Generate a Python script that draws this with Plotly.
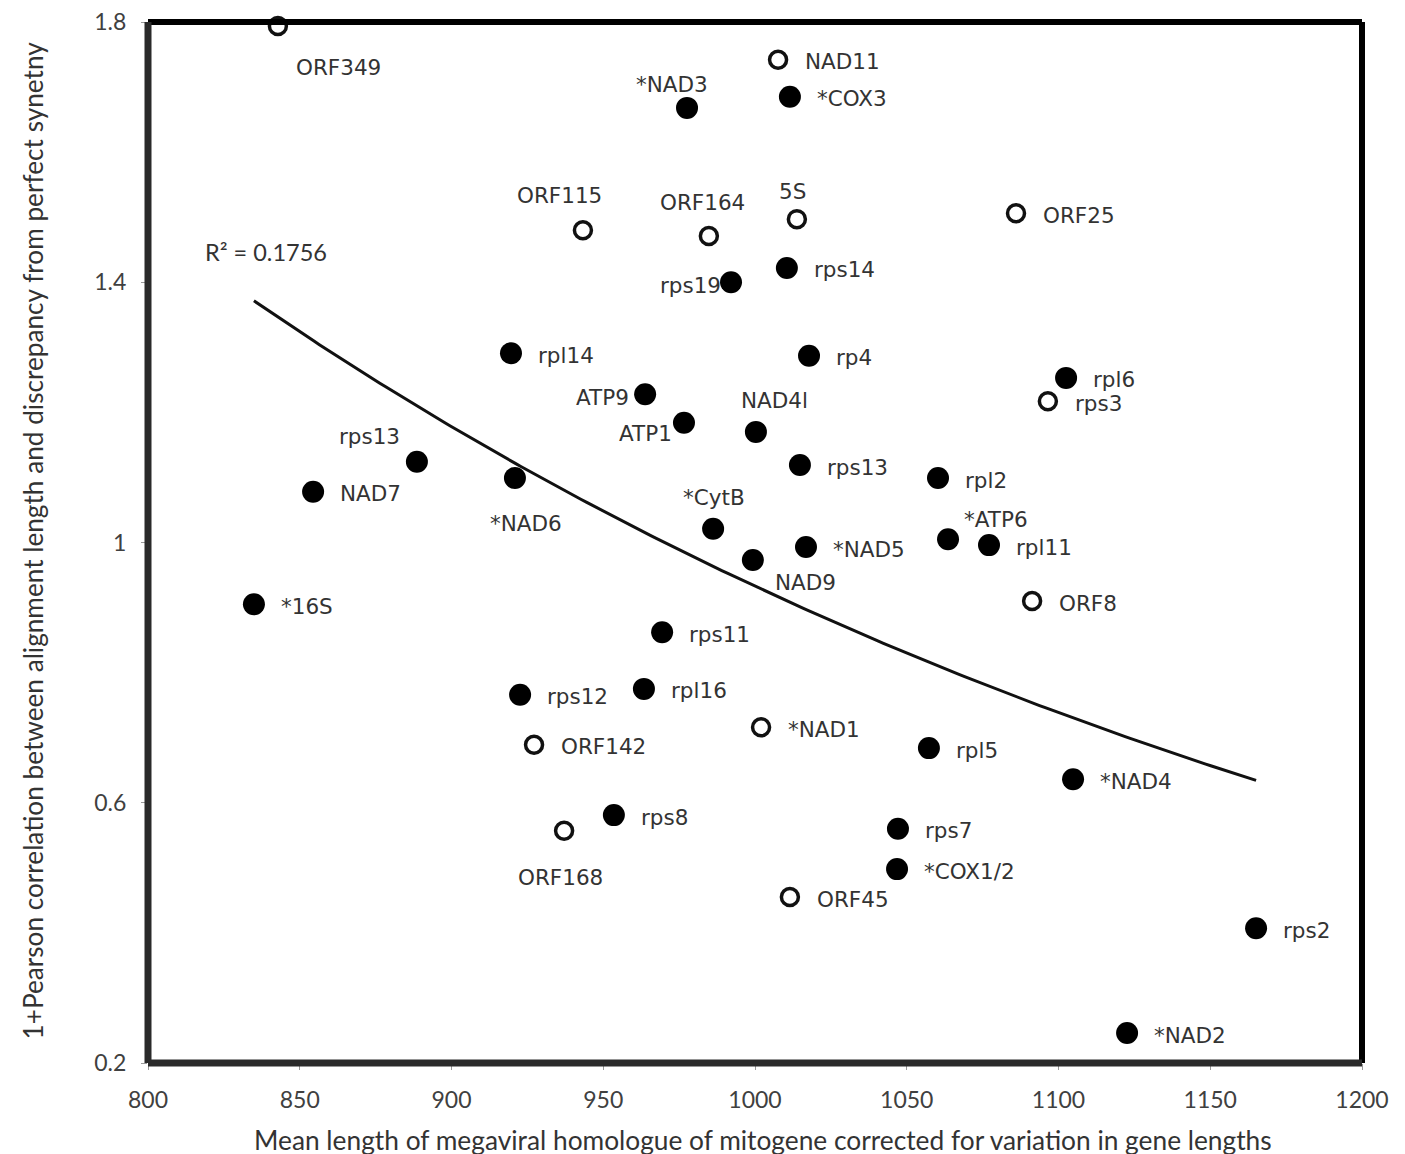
import numpy as np
import plotly.graph_objects as go

# ---- data ----
genes = ["ORF349", "NAD11", "ORF115", "ORF164", "5S", "ORF25", "rps3", "ORF8",
         "*NAD1", "ORF142", "ORF168", "ORF45",
         "*NAD3", "*COX3", "rps19", "rps14", "rpl14", "rp4", "ATP9", "rpl6",
         "ATP1", "NAD4l", "rps13", "rps13", "NAD7", "*NAD6", "rpl2", "*CytB",
         "*ATP6", "rpl11", "*NAD5", "NAD9", "*16S", "rps11", "rps12", "rpl16",
         "rpl5", "*NAD4", "rps8", "rps7", "*COX1/2", "rps2", "*NAD2"]
open_marker = [True] * 12 + [False] * 31
mean_length = [842.8, 1007.6, 943.3, 984.8, 1013.8, 1086.0, 1096.5, 1091.3,
               1002.0, 927.2, 937.1, 1011.5,
               977.6, 1011.5, 992.1, 1010.5, 919.6, 1017.8, 963.8, 1102.5,
               976.6, 1000.3, 1014.8, 888.6, 854.4, 920.9, 1060.3, 986.2,
               1063.6, 1077.1, 1016.8, 999.3, 834.9, 969.4, 922.6, 963.4,
               1057.3, 1104.8, 953.5, 1047.1, 1046.8, 1165.1, 1122.6]
pearson1 = [1.794, 1.742, 1.480, 1.471, 1.497, 1.506, 1.217, 0.910,
            0.716, 0.689, 0.557, 0.455,
            1.668, 1.685, 1.400, 1.422, 1.291, 1.287, 1.228, 1.253,
            1.184, 1.170, 1.119, 1.124, 1.078, 1.099, 1.099, 1.021,
            1.005, 0.996, 0.993, 0.973, 0.905, 0.862, 0.766, 0.775,
            0.684, 0.636, 0.581, 0.560, 0.498, 0.407, 0.246]
r2_text = "R² = 0.1756"
x_ticks = [800, 850, 900, 950, 1000, 1050, 1100, 1150, 1200]
y_ticks = [0.2, 0.6, 1.0, 1.4, 1.8]
y_ticklabels = ["0.2", "0.6", "1", "1.4", "1.8"]
x_title = "Mean length of megaviral homologue of mitogene corrected for variation in gene lengths"
y_title = "1+Pearson correlation between alignment length and discrepancy from perfect synetny"

# ---- label placement (style: pixel offsets of label centre from point) ----
label_offsets = {
    "ORF349": (61, 42), "*NAD3": (-15, -23), "ORF115": (-23, -35),
    "ORF164": (-6, -34), "5S": (-4, -28), "rps19": (-41, 3), "ATP9": (-43, 3),
    "NAD4l": (19, -31), "ATP1": (-38, 11), "*NAD6": (11, 45),
    "*CytB": (1, -31), "*ATP6": (48, -20), "NAD9": (53, 22), "ORF168": (-4, 47),
}
left_rps13_offset = (-47, -25)

x = np.array(mean_length)
y = np.array(pearson1)
filled = ~np.array(open_marker)

# exponential trendline fitted to the filled points (least squares on ln y)
b_f, la_f = np.polyfit(x[filled], np.log(y[filled]), 1)
xf = np.linspace(x[filled].min(), x[filled].max(), 200)
yf = np.exp(la_f + b_f * xf)

fig = go.Figure()
fig.add_trace(go.Scatter(x=xf, y=yf, mode="lines",
                         line=dict(color="#111111", width=3),
                         hoverinfo="skip", showlegend=False, cliponaxis=False))

xo = [xi for xi, o in zip(mean_length, open_marker) if o]
yo = [yi for yi, o in zip(pearson1, open_marker) if o]
xc = [xi for xi, o in zip(mean_length, open_marker) if not o]
yc = [yi for yi, o in zip(pearson1, open_marker) if not o]

fig.add_trace(go.Scatter(x=xo, y=yo, mode="markers", cliponaxis=False,
                         marker=dict(size=17, color="white", symbol="circle",
                                     line=dict(color="#111111", width=3.5)),
                         showlegend=False))
fig.add_trace(go.Scatter(x=xc, y=yc, mode="markers", cliponaxis=False,
                         marker=dict(size=22, color="#000000", line=dict(width=0)),
                         showlegend=False))

label_font = dict(family="DejaVu Sans", size=21.5, color="#333333")
for g, xi, yi in zip(genes, mean_length, pearson1):
    if g == "rps13" and xi < 900:
        dx, dy = left_rps13_offset
        anchor = "center"
    elif g in label_offsets:
        dx, dy = label_offsets[g]
        anchor = "center"
    else:
        dx, dy = 25, 2
        anchor = "left"
    fig.add_annotation(x=xi, y=yi, text=g, showarrow=False, xanchor=anchor,
                       yanchor="middle", xshift=dx, yshift=-dy, font=label_font)

fig.add_annotation(x=818, y=1.446, text=r2_text, showarrow=False, xanchor="left",
                   yanchor="middle",
                   font=dict(family="Lato", size=23.5, color="#333333"))

# axis titles
fig.add_annotation(xref="paper", yref="paper", x=0.5, y=0, xshift=8, yshift=-77,
                   text=x_title, showarrow=False, xanchor="center", yanchor="middle",
                   font=dict(family="Lato", size=26.3, color="#333333"))
fig.add_annotation(xref="paper", yref="paper", x=0, y=0.5, xshift=-116, yshift=2,
                   text=y_title, showarrow=False, textangle=-90,
                   xanchor="center", yanchor="middle",
                   font=dict(family="Lato", size=26.2, color="#333333"))

# plot frame (centred on the data edges)
fig.add_shape(type="line", xref="paper", yref="paper", x0=0, x1=1, y0=1, y1=1,
              line=dict(color="#000000", width=6), layer="above")
fig.add_shape(type="line", xref="paper", yref="paper", x0=1, x1=1, y0=0, y1=1,
              line=dict(color="#000000", width=6), layer="above")
fig.add_shape(type="line", xref="paper", yref="paper", x0=0, x1=0, y0=0, y1=1,
              line=dict(color="#2a2a2a", width=7), layer="above")
fig.add_shape(type="line", xref="paper", yref="paper", x0=0, x1=1, y0=0, y1=0,
              line=dict(color="#2a2a2a", width=7), layer="above")

axis_common = dict(showline=False, showgrid=False, zeroline=False,
                   ticks="outside", ticklen=6, tickcolor="#999999", tickwidth=1,
                   ticklabeloverflow="allow",
                   tickfont=dict(family="Lato", size=23, color="#404040"))
fig.update_xaxes(range=[800, 1200], tickvals=x_ticks, ticklabelstandoff=10, **axis_common)
fig.update_yaxes(range=[0.2, 1.8], tickvals=y_ticks, ticktext=y_ticklabels,
                 ticklabelstandoff=10, **axis_common)

fig.update_layout(width=1405, height=1154, plot_bgcolor="white", paper_bgcolor="white",
                  margin=dict(l=140, r=51, t=14, b=99, autoexpand=False), showlegend=False)

fig.write_html("out.html")
